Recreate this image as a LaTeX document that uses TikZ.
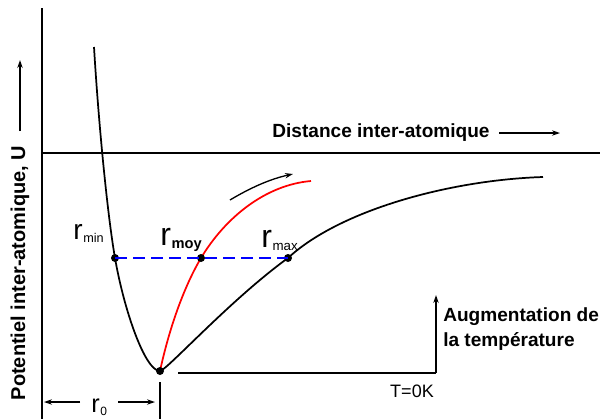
\documentclass[tikz,border=0pt]{standalone}
\usepackage{fontspec}
\setmainfont{Liberation Sans}
\usetikzlibrary{arrows.meta}

\tikzset{
  axis/.style={line width=1.1pt},
  curve/.style={line width=1.3pt, line join=round},
  dot/.style={circle, fill=black, inner sep=0pt, minimum size=6pt},
  lab/.style={font=\bfseries\fontsize{14.3}{18.75}\selectfont, inner sep=0pt},
  arr/.style={line width=1pt, -{Stealth[length=6pt,width=4pt]}}
}
\newcommand{\rlab}[3]{{\fontsize{#1}{#1}\selectfont r}\kern0.5pt\raisebox{-0.25em}{\fontsize{#2}{#2}\selectfont #3}}

\begin{document}
\begin{tikzpicture}[x=0.75pt, y=-0.75pt]
\useasboundingbox (0,0) rectangle (600,419);
% axes
\draw[axis] (42,8) -- (42,419);
\draw[axis] (42,153) -- (600,153);
\node[lab] (xlab) at (381,133) {Distance inter-atomique};
\coordinate (xtip) at (560,133);
\draw[arr] ([xshift=7pt]xlab.east) -- (xtip);
\node[lab, font=\bfseries\fontsize{15}{18}\selectfont, rotate=90] (ylab) at (20,273) {Potentiel inter-atomique, U};
\coordinate (ybase) at (20,131);
\coordinate (ytip) at (20,60);
\draw[arr] (ybase) -- (ytip);

% potential well
\draw[curve] (94,47) .. controls (99,130) and (108,218) .. (115,258)
  .. controls (124,310) and (145,371) .. (160,371)
  .. controls (166,371) and (230,300) .. (288,258)
  .. controls (340,210) and (450,180) .. (543,177);
\draw[curve, red] (160,371) .. controls (170,325) and (185,285) .. (201,258)
  .. controls (225,218) and (265,185) .. (311,181);
\draw[arr] (230,200) .. controls (250,188) and (270,179) .. (293,174);

% points
\node[dot] (rmin) at (115,258) {};
\node[dot] (rmoy) at (201,258) {};
\node[dot] (rmax) at (288,258) {};
\node[dot] (rzero) at (160,371) {};
\draw[blue, line width=1.1pt, dash pattern=on 9pt off 4.5pt] (rmin.center) -- (rmax.center);
\node[anchor=base west, inner sep=0pt] (lmin) at (73,239) {\rlab{21}{9.5}{min}};
\node[anchor=base west, inner sep=0pt] (lmoy) at (160,245) {\rlab{24}{11}{\bfseries moy}};
\node[anchor=base west, inner sep=0pt] (lmax) at (261,247) {\rlab{24}{10}{max}};

% r0
\node[anchor=base west, inner sep=0pt] (lzero) at (91,412) {\rlab{19}{9}{0}};
\coordinate (leftend) at (44,402);
\coordinate (rightend) at (155,402);
\draw[arr] (80,402) -- (leftend);
\draw[arr] (118,402) -- (rightend);
\draw[axis] (160,382) -- (160,419);

% temperature
\coordinate (tzero) at (436,373);
\draw[axis] (178,373) -- (tzero);
\draw[arr] (tzero) -- (436,295);
\node[font=\fontsize{13.5}{16}\selectfont] (tlab) at (412,391) {T=0K};
\node[lab, anchor=west, align=left] (aug) at (443,329) {Augmentation de\\la température};
\end{tikzpicture}
\end{document}
